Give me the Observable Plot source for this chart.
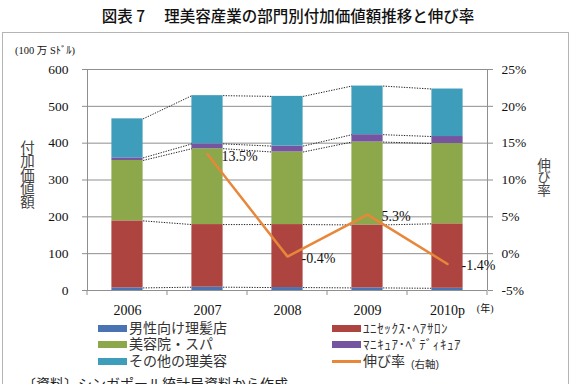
<!DOCTYPE html>
<html>
<head>
<meta charset="utf-8">
<script src="https://cdn.jsdelivr.net/npm/d3@7"></script>
<script src="https://cdn.jsdelivr.net/npm/@observablehq/plot@0.6"></script>
<style>
  body { margin: 0; background: #fff; }
  #page { position: relative; width: 576px; height: 384px; overflow: hidden;
          font-family: "Noto Sans CJK JP", "Noto Sans", sans-serif; color: #111; }
  #title { position: absolute; left: 0; top: 4px; width: 576px; text-align: center;
           font-size: 15.5px; font-weight: 500; white-space: pre; line-height: 22px; }
  #box { position: absolute; left: 2px; top: 32px; width: 567px; height: 380px;
         border: 1.5px solid #b4b4b4; box-sizing: border-box; pointer-events: none; }
  #chart { position: absolute; left: 0; top: 32px; }
  #chart svg text { font-family: "Liberation Serif", "DejaVu Serif", "Noto Sans CJK JP", serif; }
  .abs { position: absolute; white-space: pre; }
  .vert { writing-mode: vertical-rl; text-orientation: upright; letter-spacing: -1px; color: #444; }
  .sw { position: absolute; width: 29px; height: 7px; }
  .lg { position: absolute; font-family: "Liberation Sans", "Noto Sans CJK JP", sans-serif;
        font-size: 14px; line-height: 15px; white-space: pre; color: #333; }
  .half { font-size: 13px; letter-spacing: 0.6px; }
</style>
</head>
<body>
<div id="page">
  <div id="title">図表 7　 理美容産業の部門別付加価値額推移と伸び率</div>
  <div id="chart"></div>
  <div class="abs" style="left:15px; top:42px; font-size:10.5px; font-family:'Liberation Serif','Noto Sans CJK JP',serif;">(100 万 Sﾄﾞﾙ)</div>
  <div class="abs vert" style="left:17px; top:140px; font-size:14.5px;">付加価値額</div>
  <div class="abs vert" style="left:534px; top:158px; font-size:13.5px;">伸び率</div>
  <div id="legend"></div>
  <div class="abs" style="left:22px; top:373px; font-size:14px; line-height:20px; color:#222;">〔資料〕シンガポール統計局資料から作成</div>
  <div id="box"></div>
</div>
<script>
// Value added by segment (100 million S$), bottom to top of each stack
const years = ["2006", "2007", "2008", "2009", "2010p"];
const barber = [7, 9, 8, 7, 6];          // 男性向け理髪店
const unisex = [182, 170, 171, 171, 175]; // ユニセックス・ヘアサロン
const beauty = [164, 206, 197, 225, 218]; // 美容院・スパ
const nail = [7, 13, 16, 20, 19];         // マニキュア・ペディキュア
const other = [106, 131, 135, 132, 129];  // その他の理美容
// Year-on-year growth of the total (%), right axis
const growth = [null, 13.5, -0.4, 5.3, -1.4];

const seriesNames = ["男性向け理髪店", "ﾕﾆｾｯｸｽ･ﾍｱｻﾛﾝ", "美容院・スパ", "ﾏﾆｷｭｱ･ﾍﾟﾃﾞｨｷｭｱ", "その他の理美容"];
const seriesValues = [barber, unisex, beauty, nail, other];
const colors = ["#4A73B4", "#AE4440", "#8CA84B", "#7554A0", "#3E9DBA"];
const lineColor = "#E8873A";
const lineName = "伸び率";
const leftTicks = [0, 100, 200, 300, 400, 500, 600];
const rightTicks = [-5, 0, 5, 10, 15, 20, 25];

// Right axis (-5%..25%) shares the left scale (0..600)
const pctToY = p => (p + 5) * 20;

const hw = 0.195; // half bar width in category units

const rects = [];
const tops = years.map(() => []);
years.forEach((yr, i) => {
  let base = 0;
  seriesValues.forEach((vals, s) => {
    rects.push({i, s, y1: base, y2: base + vals[i]});
    base += vals[i];
    tops[i].push(base);
  });
});

// Series lines joining each segment boundary of neighbouring bars
const links = [];
for (let i = 0; i < years.length - 1; i++) {
  for (let s = 0; s < seriesValues.length; s++) {
    links.push({x1: i + hw, x2: i + 1 - hw, y1: tops[i][s], y2: tops[i + 1][s]});
  }
}

const growthRows = growth.map((g, i) => ({i, g})).filter(d => d.g !== null);
const serif = "Liberation Serif, DejaVu Serif, serif";
const gridColor = "#8f8f8f";

const chart = Plot.plot({
  width: 576,
  height: 290,
  marginTop: 37,
  marginBottom: 32,
  marginLeft: 87,
  marginRight: 89,
  style: "font-family: 'Liberation Serif', serif; font-size: 13px; color: #111; background: transparent;",
  x: {type: "linear", domain: [-0.5, years.length - 0.5], axis: null},
  y: {domain: [0, 600], axis: null},
  color: {type: "identity"},
  marks: [
    Plot.ruleY(leftTicks.slice(1), {stroke: gridColor, strokeWidth: 1}),
    Plot.ruleX([-0.5, years.length - 0.5], {stroke: gridColor, strokeWidth: 1}),
    Plot.ruleY([0], {stroke: gridColor, strokeWidth: 1}),
    Plot.axisY({anchor: "left", ticks: leftTicks, tickSize: 5, tickPadding: 14,
                stroke: gridColor, fill: "#111", fontSize: 13.5, fontFamily: serif}),
    Plot.axisY({anchor: "right", ticks: rightTicks.map(pctToY), tickSize: 5, tickPadding: 9,
                tickFormat: v => `${v / 20 - 5}%`, stroke: gridColor, fill: "#111", fontSize: 13.5, fontFamily: serif}),
    Plot.rect(rects, {x1: d => d.i - hw, x2: d => d.i + hw, y1: "y1", y2: "y2", fill: d => colors[d.s]}),
    Plot.link(links, {x1: "x1", x2: "x2", y1: "y1", y2: "y2", stroke: "#222",
                      strokeWidth: 1, strokeDasharray: "1.3,1.3"}),
    Plot.line(growthRows, {x: "i", y: d => pctToY(d.g), stroke: lineColor, strokeWidth: 2.5,
                           strokeLinejoin: "miter"}),
    Plot.text(growthRows, {x: "i", y: d => pctToY(d.g), text: d => `${d.g}%`, dx: 14, dy: 2,
                           textAnchor: "start", fontSize: 14, fill: "#111", fontFamily: serif}),
    Plot.text(years, {x: (d, i) => i, y: 0, text: d => d, dy: 20, fontSize: 14, fill: "#111", fontFamily: serif}),
    Plot.text(["(年)"], {frameAnchor: "bottom-right", dx: 6, dy: 21, fontSize: 10,
                        fill: "#111"})
  ]
});
document.getElementById("chart").appendChild(chart);

// Boundary tick marks below the x axis
const xScale = chart.scale("x");
const yScale = chart.scale("y");
d3.select(chart).append("g").selectAll("line")
  .data(d3.range(years.length + 1).map(k => k - 0.5))
  .join("line")
  .attr("x1", d => xScale.apply(d)).attr("x2", d => xScale.apply(d))
  .attr("y1", yScale.apply(0)).attr("y2", yScale.apply(0) + 5)
  .attr("stroke", gridColor);

// Legend: two columns, series in stacking order then the growth line
const legend = document.getElementById("legend");
const items = seriesNames.map((name, s) => ({name, color: colors[s], line: false}));
items.push({name: lineName, color: lineColor, line: true});
items.forEach((it, k) => {
  const col = k % 2, row = Math.floor(k / 2);
  const left = col === 0 ? 98 : 332;
  const cy = 328 + row * 16.5;
  const sw = document.createElement("div");
  sw.className = "sw";
  sw.style.left = left + "px";
  sw.style.top = (it.line ? cy - 1 : cy - 3.5) + "px";
  sw.style.height = it.line ? "2.5px" : "7px";
  sw.style.background = it.color;
  legend.appendChild(sw);
  const tx = document.createElement("div");
  tx.className = "lg";
  tx.style.left = (left + 31) + "px";
  tx.style.top = (cy - 7.5) + "px";
  const isHalf = /[\uFF61-\uFF9F]/.test(it.name);
  tx.innerHTML = isHalf ? `<span class="half">${it.name}</span>` : it.name;
  if (it.line) tx.innerHTML += `<span style="font-size:10.5px;margin-left:6px;position:relative;top:2px;">(右軸)</span>`;
  legend.appendChild(tx);
});
</script>
</body>
</html>
